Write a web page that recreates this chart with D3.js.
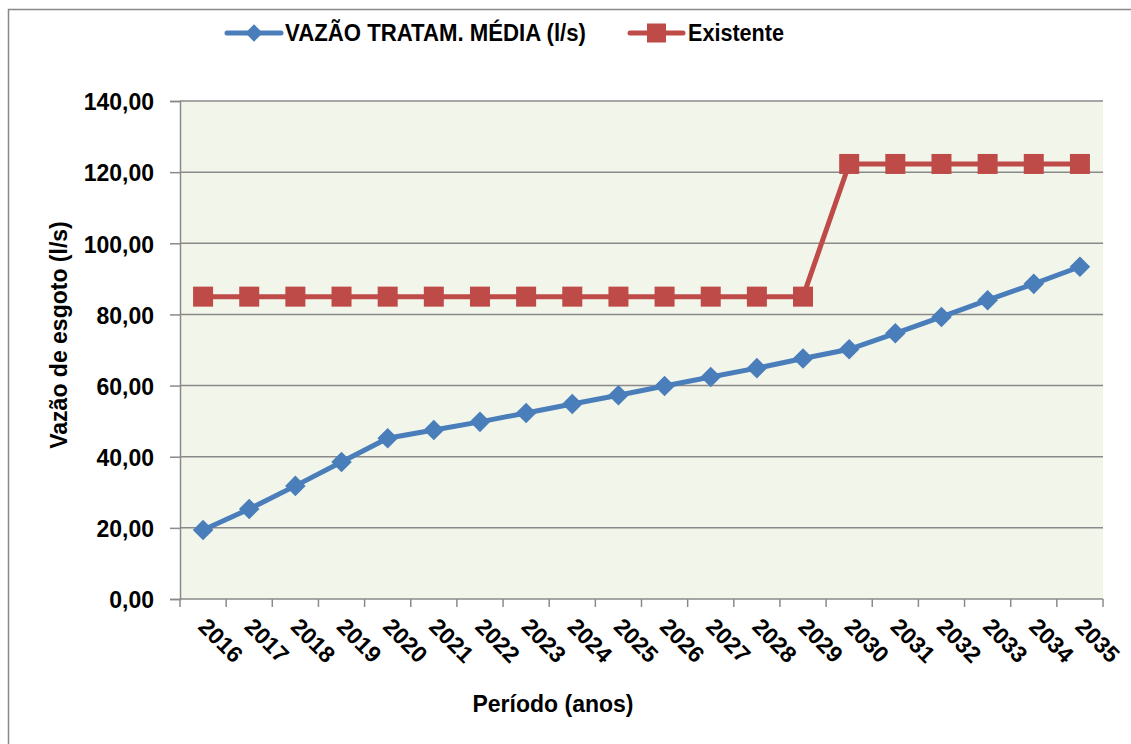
<!DOCTYPE html>
<html>
<head>
<meta charset="utf-8">
<script src="https://cdn.jsdelivr.net/npm/d3@7"></script>
<style>
  body { margin: 0; background: #fff; }
  text { font-family: "Liberation Sans", Arial, sans-serif; font-weight: bold; fill: #000; }
</style>
</head>
<body>
<div id="chart-area"></div>
<script>
// data
var anos = ["2016", "2017", "2018", "2019", "2020", "2021", "2022", "2023", "2024", "2025",
            "2026", "2027", "2028", "2029", "2030", "2031", "2032", "2033", "2034", "2035"];
var vazaoMedia = [19.4, 25.3, 31.8, 38.5, 45.2, 47.5, 49.8, 52.3, 54.8, 57.3,
                  59.9, 62.4, 64.9, 67.6, 70.2, 74.7, 79.3, 84.0, 88.6, 93.4];
var existente = [85.0, 85.0, 85.0, 85.0, 85.0, 85.0, 85.0, 85.0, 85.0, 85.0,
                 85.0, 85.0, 85.0, 85.0, 122.3, 122.3, 122.3, 122.3, 122.3, 122.3];
var yTicks = [0, 20, 40, 60, 80, 100, 120, 140];
var serieNomes = ["VAZÃO TRATAM. MÉDIA (l/s)", "Existente"];

var W = 1131, H = 744;
var margin = { left: 180, right: 28, top: 101, bottom: 145 };
var width = W - margin.left - margin.right;
var height = H - margin.top - margin.bottom;
var fs = "23px";

var svg = d3.select("#chart-area")
    .append("svg")
    .attr("width", W)
    .attr("height", H);

// outer frame
svg.append("rect")
    .attr("x", 8.5).attr("y", 9.5)
    .attr("width", W + 20).attr("height", H + 20)
    .attr("fill", "none")
    .attr("stroke", "#888")
    .attr("stroke-width", 1.5);

var g = svg.append("g")
    .attr("transform", "translate(" + margin.left + "," + margin.top + ")");

// scales
var x = d3.scaleBand().domain(anos).range([0, width]);
var y = d3.scaleLinear().domain([0, 140]).range([height, 0]);
var xc = function(d) { return x(d) + x.bandwidth() / 2; };

g.append("rect")
    .attr("width", width).attr("height", height)
    .attr("fill", "#F2F5EA");

// grid
g.selectAll(".grid")
    .data(yTicks.filter(function(d) { return d > 0; }))
    .enter().append("line")
    .attr("x1", 0).attr("x2", width)
    .attr("y1", function(d) { return y(d); })
    .attr("y2", function(d) { return y(d); })
    .attr("stroke", "#8a8a8a")
    .attr("stroke-width", 1.5);

// y axis
var yAxis = g.append("g")
    .call(d3.axisLeft(y).tickValues(yTicks).tickSize(10).tickPadding(16)
        .tickFormat(function(d) { return d3.format(".2f")(d).replace(".", ","); }));
yAxis.select(".domain").attr("stroke", "#8a8a8a").attr("stroke-width", 1.5);
yAxis.selectAll(".tick line").attr("stroke", "#8a8a8a").attr("stroke-width", 1.5);
yAxis.selectAll(".tick text").style("font-size", fs).attr("dy", "0.38em");

// x axis: ticks at band edges
var xAxis = g.append("g")
    .attr("transform", "translate(0," + height + ")");
xAxis.append("line")
    .attr("x1", 0).attr("x2", width)
    .attr("stroke", "#8a8a8a").attr("stroke-width", 1.5);
xAxis.selectAll(".xtick")
    .data(anos.concat(["end"]))
    .enter().append("line")
    .attr("x1", function(d, i) { return i * x.step(); })
    .attr("x2", function(d, i) { return i * x.step(); })
    .attr("y1", 0).attr("y2", 8)
    .attr("stroke", "#8a8a8a").attr("stroke-width", 1.5);
xAxis.selectAll(".xlabel")
    .data(anos)
    .enter().append("text")
    .attr("transform", function(d) { return "translate(" + (xc(d) - 6) + ",29) rotate(45)"; })
    .attr("text-anchor", "start")
    .style("font-size", fs)
    .text(function(d) { return d; });

// axis titles
svg.append("text")
    .attr("x", 553)
    .attr("y", 712)
    .attr("text-anchor", "middle")
    .style("font-size", fs)
    .text("Período (anos)");
svg.append("text")
    .attr("transform", "translate(67,335) rotate(-90)")
    .attr("text-anchor", "middle")
    .style("font-size", fs)
    .text("Vazão de esgoto (l/s)");

// lines
var line = d3.line()
    .x(function(d, i) { return xc(anos[i]); })
    .y(function(d) { return y(d); });

var azul = "#4A7EBB", vermelho = "#BE4B48";

g.append("path").datum(existente)
    .attr("d", line).attr("fill", "none")
    .attr("stroke", vermelho).attr("stroke-width", 5);
g.selectAll(".sq").data(existente).enter().append("rect")
    .attr("x", function(d, i) { return xc(anos[i]) - 10; })
    .attr("y", function(d) { return y(d) - 10; })
    .attr("width", 20).attr("height", 20)
    .attr("fill", vermelho);

g.append("path").datum(vazaoMedia)
    .attr("d", line).attr("fill", "none")
    .attr("stroke", azul).attr("stroke-width", 5);
var diamante = d3.symbol().type(d3.symbolDiamond2).size(270);
g.selectAll(".dm").data(vazaoMedia).enter().append("path")
    .attr("d", diamante)
    .attr("transform", function(d, i) { return "translate(" + xc(anos[i]) + "," + y(d) + ")"; })
    .attr("fill", azul);

// legend
var legenda = svg.append("g");
var itens = [
    { nome: serieNomes[0], cor: azul, x: 227, fim: 281, tx: 285, len: 301, tipo: "d" },
    { nome: serieNomes[1], cor: vermelho, x: 630, fim: 683, tx: 688, len: 96, tipo: "s" }
];
itens.forEach(function(it) {
    legenda.append("line")
        .attr("x1", it.x).attr("x2", it.fim)
        .attr("y1", 33).attr("y2", 33)
        .attr("stroke", it.cor).attr("stroke-width", 5)
        .attr("stroke-linecap", "round");
    var cx = (it.x + it.fim) / 2;
    if (it.tipo === "d") {
        legenda.append("path")
            .attr("d", d3.symbol().type(d3.symbolDiamond2).size(190))
            .attr("transform", "translate(" + cx + ",33)")
            .attr("fill", it.cor);
    } else {
        legenda.append("rect")
            .attr("x", cx - 9.5).attr("y", 23.5)
            .attr("width", 19).attr("height", 19)
            .attr("fill", it.cor);
    }
    legenda.append("text")
        .attr("x", it.tx).attr("y", 41)
        .attr("textLength", it.len)
        .attr("lengthAdjust", "spacingAndGlyphs")
        .style("font-size", fs)
        .text(it.nome);
});
</script>
</body>
</html>
